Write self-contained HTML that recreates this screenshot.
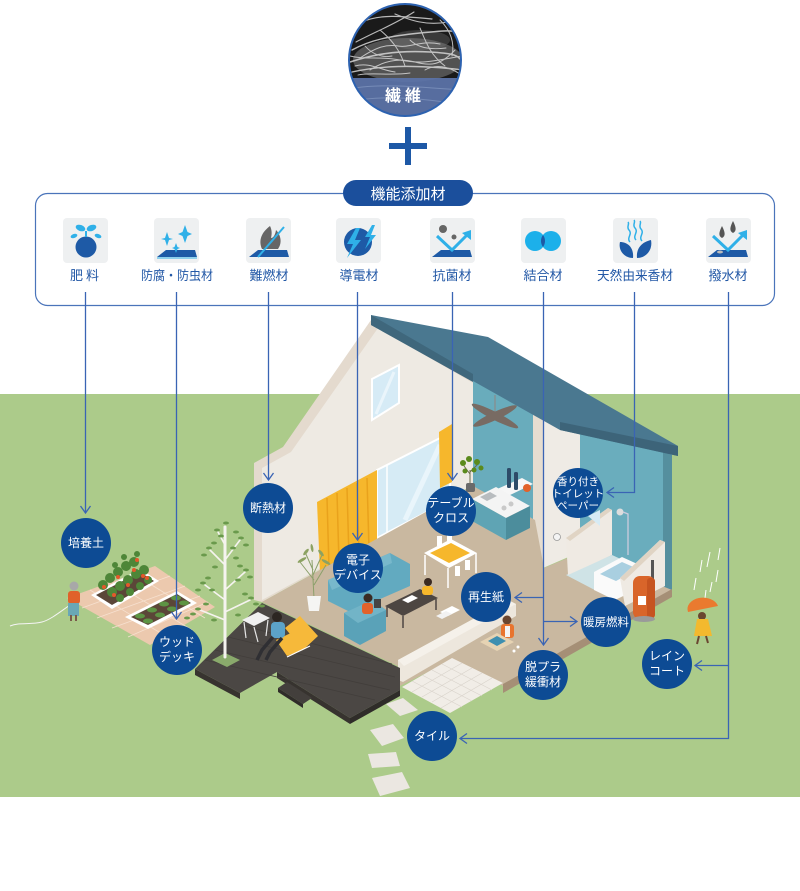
<!DOCTYPE html>
<html><head><meta charset="utf-8"><style>
html,body{margin:0;padding:0;background:#fff;}
svg{display:block;}
text{font-family:"Liberation Sans","Noto Sans CJK JP",sans-serif;}
</style></head><body>
<svg width="800" height="891" viewBox="0 0 800 891" xmlns="http://www.w3.org/2000/svg">
<defs>
<clipPath id="cc"><circle cx="405" cy="60" r="56"/></clipPath>
</defs>
<rect width="800" height="891" fill="#fff"/>

<!-- top fiber circle -->
<g clip-path="url(#cc)">
<rect x="348" y="2" width="116" height="118" fill="#1a1a1a"/>
<ellipse cx="408" cy="60" rx="55" ry="22" fill="#8a8a8a" opacity="0.5"/>
<ellipse cx="420" cy="40" rx="30" ry="10" fill="#777" opacity="0.35"/>
<g fill="none" stroke="#d8d8d8" stroke-linecap="round" opacity="0.85">
<path d="M352,50 C370,40 390,36 420,33 S450,30 464,34" stroke-width="1.4"/>
<path d="M350,62 C372,55 395,50 430,52 S455,58 464,61" stroke-width="1.6"/>
<path d="M362,22 C380,14 400,16 432,19" stroke-width="1.2"/>
<path d="M352,72 C380,66 410,64 464,70" stroke-width="1.4"/>
<path d="M356,42 C375,32 395,24 414,12" stroke-width="1.1"/>
<path d="M395,14 C410,20 425,26 448,22 S460,30 462,40" stroke-width="1.1"/>
<path d="M360,58 C375,48 385,44 398,46 S420,40 440,44" stroke-width="1"/>
<path d="M370,70 C385,60 400,58 415,62 S440,66 455,50" stroke-width="1"/>
<path d="M380,30 C392,40 400,50 405,66" stroke-width="1"/>
<path d="M420,28 C425,40 430,55 445,66" stroke-width="1"/>
<path d="M440,20 C450,30 455,42 452,56" stroke-width="1"/>
<path d="M355,66 C370,62 380,70 395,72" stroke-width="1"/>
<path d="M410,40 C418,48 430,50 446,48" stroke-width="0.9"/>
<path d="M365,46 C372,54 382,58 392,56" stroke-width="0.9"/>
<path d="M425,70 C435,64 448,66 460,74" stroke-width="1"/>
<path d="M350,56 C365,60 380,56 400,60 S430,62 462,56" stroke-width="1"/>
<path d="M358,75 C370,72 390,76 410,73" stroke-width="0.9"/>
</g>
<rect x="348" y="78" width="116" height="42" fill="#5c74aa" opacity="0.92"/>
<g fill="none" stroke="#8aa0c8" stroke-width="1" opacity="0.6">
<path d="M355,88 C380,84 410,86 460,90"/>
<path d="M358,100 C385,96 420,98 458,104"/>
</g>
</g>
<circle cx="405" cy="60" r="56" fill="none" stroke="#2d62b0" stroke-width="2"/>
<text x="405" y="101" font-size="16" fill="#fff" text-anchor="middle" font-weight="bold" letter-spacing="4">繊維</text>

<!-- plus -->
<rect x="389" y="143" width="38" height="6" fill="#1d58a6"/>
<rect x="405" y="127" width="6" height="38" fill="#1d58a6"/>

<!-- green ground -->
<rect x="0" y="394" width="800" height="403" fill="#accb8a"/>

<!-- functional additive box -->
<rect x="35.5" y="193.5" width="739" height="112" rx="12" fill="#fff" stroke="#4a74ba" stroke-width="1.2"/>
<rect x="343" y="180" width="130" height="26" rx="13" fill="#1b4f9c"/>
<text x="408" y="199" font-size="15" fill="#fff" text-anchor="middle">機能添加材</text>

<!-- icon squares -->
<g fill="#eef0f1">
<rect x="63" y="218" width="45" height="45" rx="4"/>
<rect x="154" y="218" width="45" height="45" rx="4"/>
<rect x="246" y="218" width="45" height="45" rx="4"/>
<rect x="336" y="218" width="45" height="45" rx="4"/>
<rect x="430" y="218" width="45" height="45" rx="4"/>
<rect x="521" y="218" width="45" height="45" rx="4"/>
<rect x="613" y="218" width="45" height="45" rx="4"/>
<rect x="706" y="218" width="45" height="45" rx="4"/>
</g>
<!-- icon 1 肥料 -->
<circle cx="86" cy="247" r="10.5" fill="#1e5aa6"/>
<path d="M86,237 L86,231" stroke="#2fb0e8" stroke-width="2"/>
<ellipse cx="80.5" cy="228" rx="5" ry="3" fill="#2fb0e8" transform="rotate(20 80.5 228)"/>
<ellipse cx="91.5" cy="228" rx="5" ry="3" fill="#2fb0e8" transform="rotate(-20 91.5 228)"/>
<ellipse cx="74" cy="236" rx="3.5" ry="2" fill="#2fb0e8" transform="rotate(-20 74 236)"/>
<ellipse cx="98" cy="236" rx="3.5" ry="2" fill="#2fb0e8" transform="rotate(20 98 236)"/>
<!-- icon 2 防腐 -->
<polygon points="157,257 166,250 195,250 197,257" fill="#1e5aa6"/>
<line x1="157" y1="258" x2="197" y2="258" stroke="#2fb0e8" stroke-width="1"/>
<path d="M167,232 L169,238 L173,239 L169,240 L167,246 L165,240 L161,239 L165,238Z" fill="#2fb0e8"/>
<path d="M185,225 L187.5,232 L192,234 L187.5,236 L185,243 L182.5,236 L178,234 L182.5,232Z" fill="#2fb0e8"/>
<path d="M176,243 L177.5,247 L180,248 L177.5,249 L176,253 L174.5,249 L172,248 L174.5,247Z" fill="#2fb0e8"/>
<!-- icon 3 難燃 -->
<polygon points="249,257 258,250 287,250 289,257" fill="#1e5aa6"/>
<path d="M270,226 C262,232 258,240 262,249 L278,249 C283,242 280,234 276,230 C275,236 273,238 271,238 C272,234 272,230 270,226Z" fill="#666"/>
<line x1="258" y1="257" x2="284" y2="227" stroke="#2fb0e8" stroke-width="2"/>
<!-- icon 4 導電 -->
<circle cx="358" cy="242" r="14" fill="#1e5aa6"/>
<path d="M356,228 L347,244 L353,244 L347,258 L361,240 L355,240 L360,228Z" fill="#2fb0e8"/>
<path d="M372,225 L365,237 L370,237 L365,249 L376,235 L371,235 L375,225Z" fill="#2fb0e8"/>
<!-- icon 5 抗菌 -->
<polygon points="432,257 441,250 470,250 472,257" fill="#1e5aa6"/>
<path d="M437,236 L452,250 L468,234" fill="none" stroke="#2fb0e8" stroke-width="3"/>
<polygon points="471,230 471,240 462,233" fill="#2fb0e8"/>
<circle cx="443" cy="229" r="4" fill="#666"/>
<circle cx="454" cy="237" r="2.5" fill="#666"/>
<!-- icon 6 結合 -->
<circle cx="535" cy="241" r="10" fill="#1cb0ea"/>
<circle cx="551" cy="241" r="10" fill="#1cb0ea"/>
<path d="M543,235 A10,10 0 0 1 543,247 A10,10 0 0 1 543,235Z" fill="#1e5aa6"/>
<!-- icon 7 天然 -->
<path d="M633,258 C624,258 618,250 620,242 C628,242 634,248 633,258Z" fill="#1e5aa6"/>
<path d="M637,258 C646,258 653,250 651,240 C642,242 636,248 637,258Z" fill="#1e5aa6"/>
<g fill="none" stroke="#2fb0e8" stroke-width="1.5">
<path d="M630,242 C626,238 633,234 629,230 C626,227 630,224 628,222"/>
<path d="M636,240 C632,236 639,232 635,228 C632,225 636,222 634,220"/>
<path d="M642,241 C638,237 645,233 641,229 C638,226 642,223 640,221"/>
</g>
<!-- icon 8 撥水 -->
<polygon points="708,257 717,250 746,250 748,257" fill="#1e5aa6"/>
<path d="M713,236 L728,250 L744,234" fill="none" stroke="#2fb0e8" stroke-width="3"/>
<polygon points="747,230 747,240 738,233" fill="#2fb0e8"/>
<path d="M722,226 C719,232 718,236 722,238 C726,236 725,232 722,226Z" fill="#555"/>
<path d="M733,221 C730,227 729,231 733,233 C737,231 736,227 733,221Z" fill="#555"/>
<ellipse cx="720" cy="252" rx="3" ry="1.5" fill="#bbb"/>

<!-- icon labels -->
<g font-size="13" fill="#2358a6" text-anchor="middle">
<text x="86" y="280" letter-spacing="3">肥料</text>
<text x="177" y="280" textLength="72" lengthAdjust="spacingAndGlyphs">防腐・防虫材</text>
<text x="269" y="280">難燃材</text>
<text x="359" y="280">導電材</text>
<text x="452" y="280">抗菌材</text>
<text x="543" y="280">結合材</text>
<text x="635" y="280" textLength="76" lengthAdjust="spacingAndGlyphs">天然由来香材</text>
<text x="728" y="280">撥水材</text>
</g>

<!-- ===== garden ===== -->
<polygon points="67,598 155,566 215,607 150,645" fill="#ecc9ae"/>
<g stroke="#f6e0cf" stroke-width="0.8">
<line x1="82" y1="608" x2="170" y2="576"/>
<line x1="97" y1="618" x2="185" y2="586"/>
<line x1="112" y1="628" x2="200" y2="596"/>
<line x1="128" y1="637" x2="208" y2="602"/>
<line x1="90" y1="590" x2="172" y2="640"/>
<line x1="112" y1="582" x2="192" y2="630"/>
<line x1="134" y1="574" x2="205" y2="618"/>
</g>
<polygon points="91,595 140,569 159,581 112,609" fill="#fff"/>
<polygon points="96,595 140,572 154,581 112,605" fill="#5b4638"/>
<polygon points="125,617 177,591 197,603 148,629" fill="#fff"/>
<polygon points="131,617 177,594 191,603 148,625" fill="#5b4638"/>
<g fill="#4e8638">
<circle cx="103" cy="585" r="5"/><circle cx="110" cy="578" r="5"/><circle cx="118" cy="572" r="5"/><circle cx="126" cy="566" r="5"/><circle cx="134" cy="562" r="5"/>
<circle cx="112" cy="592" r="5"/><circle cx="120" cy="586" r="5"/><circle cx="128" cy="580" r="5"/><circle cx="136" cy="574" r="5"/><circle cx="144" cy="570" r="5"/>
<circle cx="120" cy="598" r="4"/><circle cx="130" cy="592" r="4"/><circle cx="140" cy="586" r="4"/><circle cx="148" cy="580" r="4"/>
<circle cx="115" cy="565" r="3"/><circle cx="124" cy="557" r="3"/><circle cx="137" cy="554" r="3"/>
</g>
<g fill="#e4582b">
<circle cx="104" cy="587" r="2"/><circle cx="118" cy="577" r="2"/><circle cx="134" cy="570" r="2"/><circle cx="143" cy="576" r="2"/><circle cx="114" cy="595" r="2"/><circle cx="128" cy="585" r="2"/><circle cx="137" cy="560" r="2"/><circle cx="147" cy="578" r="2"/>
</g>
<g fill="#5d9444">
<ellipse cx="140" cy="616" rx="5" ry="2.5"/><ellipse cx="152" cy="610" rx="5" ry="2.5"/><ellipse cx="164" cy="604" rx="5" ry="2.5"/><ellipse cx="176" cy="598" rx="5" ry="2.5"/>
<ellipse cx="148" cy="621" rx="5" ry="2.5"/><ellipse cx="160" cy="615" rx="5" ry="2.5"/><ellipse cx="172" cy="609" rx="5" ry="2.5"/><ellipse cx="184" cy="603" rx="5" ry="2.5"/>
</g>
<!-- garden lady -->
<path d="M70,605 C60,612 50,620 42,622 C30,625 20,622 10,626" fill="none" stroke="#f4f4f4" stroke-width="1"/>
<circle cx="74" cy="586" r="4.5" fill="#a8a8a8"/>
<rect x="68" y="591" width="12" height="13" rx="3" fill="#e0622a"/>
<rect x="68" y="603" width="11" height="13" fill="#6aa7b5"/>
<rect x="70" y="615" width="2" height="6" fill="#7a5a4a"/><rect x="75" y="615" width="2" height="6" fill="#7a5a4a"/>

<!-- ===== house ===== -->
<polygon points="371,320 473,380 473,485 262,602 254,600 254,463 283,447" fill="#e4dace"/>
<polygon points="378,328 473,383 473,485 262,600 262,468 291,452" fill="#eeeae3"/>
<polygon points="372,379 399,365 399,403 372,420" fill="#d6ebf6" stroke="#fff" stroke-width="2"/>
<line x1="376" y1="414" x2="394" y2="372" stroke="#eaf5fb" stroke-width="3"/>
<polygon points="473,380 535,413 535,527 473,492" fill="#69acbc"/>
<polygon points="575,424 672,452 672,590 663,594 580,562" fill="#6aadbd"/>
<polygon points="663,452 672,455 672,589 663,594" fill="#558f9e"/>
<polygon points="533,412 580,426 580,552 543,568 533,565" fill="#efebe5"/>
<polygon points="533,412 544,416 544,568 533,565" fill="#e6ddd0"/>
<polygon points="371,315 488,337 678,446 678,456 560,430 473,381 371,325" fill="#4a7890"/>
<polygon points="371,315 473,374 473,382 371,325" fill="#3f677c"/>
<polygon points="560,422 678,446 678,456 560,430" fill="#3d6479"/>
<line x1="495" y1="395" x2="495" y2="415" stroke="#8a8a8a" stroke-width="1.2"/>
<ellipse cx="495" cy="416" rx="26" ry="4" fill="#786b63" transform="rotate(27 495 416)"/>
<ellipse cx="495" cy="416" rx="24" ry="4" fill="#786b63" transform="rotate(-25 495 416)"/>
<polygon points="377,470 450,433 450,500 377,538" fill="#d6ebf5" stroke="#fff" stroke-width="2"/>
<line x1="387" y1="465" x2="387" y2="533" stroke="#fff" stroke-width="1.5"/>
<line x1="405" y1="520" x2="440" y2="445" stroke="#e9f5fb" stroke-width="5"/>
<polygon points="317,502 377,470 377,545 320,573" fill="#f6b72c"/>
<g stroke="#e9a21c" stroke-width="1.5">
<line x1="327" y1="498" x2="329" y2="568"/><line x1="337" y1="493" x2="339" y2="563"/><line x1="347" y1="488" x2="349" y2="558"/><line x1="357" y1="483" x2="359" y2="553"/><line x1="367" y1="478" x2="369" y2="549"/>
</g>
<polygon points="439,432 452,424 452,482 440,488" fill="#f6b72c"/>
<polygon points="262,602 473,486 535,520 544,568 580,553 672,590 503,686 452,660 400,686 400,667" fill="#c9b8a0"/>
<polygon points="503,684 672,589 672,597 503,693" fill="#a58f76"/>
<polygon points="398,660 508,600 516,604 516,616 403,682 398,680" fill="#ede7dd"/>
<polygon points="398,660 508,600 516,604 404,666" fill="#f5f1ea"/>
<rect x="466" y="483" width="9" height="9" rx="2" fill="#6a6a6a"/>
<path d="M470,483 L470,470 M470,474 L464,466 M470,472 L478,464" stroke="#6b6b4b" stroke-width="1"/>
<g fill="#5b8a1c"><circle cx="463" cy="463" r="3"/><circle cx="469" cy="459" r="3"/><circle cx="477" cy="462" r="3"/><circle cx="481" cy="468" r="2.5"/><circle cx="465" cy="471" r="2.5"/><circle cx="474" cy="470" r="2.5"/></g>
<polygon points="495,490 522,478 533,484 506,497" fill="#f6f6f6"/>
<rect x="507" y="468" width="4" height="20" rx="1.5" fill="#2d4b68"/>
<rect x="514" y="472" width="4" height="18" rx="1.5" fill="#2d4b68"/>
<circle cx="527" cy="488" r="4" fill="#e2622a"/>
<polygon points="472,499 496,487 530,506 506,518" fill="#f4f4f4"/>
<polygon points="472,499 506,518 506,540 472,521" fill="#5fa4b4"/>
<polygon points="506,518 530,506 530,528 506,540" fill="#4c8d9c"/>
<polygon points="480,497 490,492 497,496 487,501" fill="#b8bcbf"/>
<circle cx="504" cy="508" r="2.5" fill="#c9c9c9"/><circle cx="511" cy="504" r="2.5" fill="#c9c9c9"/>
<g stroke="#fff" stroke-width="1.5">
<line x1="425" y1="555" x2="425" y2="575"/><line x1="448" y1="568" x2="448" y2="588"/><line x1="476" y1="553" x2="476" y2="573"/><line x1="452" y1="541" x2="452" y2="560"/>
</g>
<polygon points="424,553 451,539 477,553 449,568" fill="#fff"/>
<polygon points="430,553 451,543 470,553 449,563" fill="#f6b72c"/>
<g fill="#fff"><rect x="437" y="536" width="5" height="10"/><rect x="447" y="531" width="5" height="10"/><rect x="455" y="566" width="5" height="10"/><rect x="465" y="560" width="5" height="10"/></g>
<g stroke="#8ba06a" stroke-width="1" fill="none">
<path d="M314,598 L312,560 M314,580 L300,562 M314,585 L326,565 M313,570 L305,552 M313,575 L322,555"/>
</g>
<g fill="#8ca262"><ellipse cx="302" cy="560" rx="5" ry="1.5" transform="rotate(-30 302 560)"/><ellipse cx="326" cy="562" rx="5" ry="1.5" transform="rotate(30 326 562)"/><ellipse cx="306" cy="552" rx="4" ry="1.5" transform="rotate(-50 306 552)"/><ellipse cx="321" cy="553" rx="4" ry="1.5" transform="rotate(50 321 553)"/><ellipse cx="312" cy="548" rx="4" ry="1.3" transform="rotate(80 312 548)"/></g>
<path d="M307,596 L321,596 L319,611 L309,611Z" fill="#f5f5f3"/>
<polygon points="328,580 390,553 410,564 410,586 350,612 328,601" fill="#62aac0"/>
<polygon points="328,580 390,553 392,563 332,590" fill="#78b8cb"/>
<polygon points="344,613 372,600 386,610 386,631 360,645 344,636" fill="#5aa2b8"/>
<polygon points="344,613 372,600 386,610 358,623" fill="#72b4c7"/>
<circle cx="368" cy="598" r="4.5" fill="#3a2a22"/>
<rect x="362" y="603" width="11" height="11" rx="3" fill="#e2622a"/>
<rect x="374" y="599" width="7" height="9" fill="#444"/>
<polygon points="385,606 420,589 438,598 403,616" fill="#4d4642"/>
<line x1="387" y1="607" x2="387" y2="617" stroke="#4d4642" stroke-width="1.5"/>
<line x1="403" y1="616" x2="403" y2="628" stroke="#4d4642" stroke-width="1.5"/>
<line x1="436" y1="599" x2="436" y2="610" stroke="#4d4642" stroke-width="1.5"/>
<polygon points="402,600 412,595 418,598 408,603" fill="#fff"/>
<circle cx="428" cy="582" r="4" fill="#3a2a22"/>
<rect x="422" y="586" width="11" height="9" rx="3" fill="#f6b72c"/>
<polygon points="440,612 452,606 460,610 448,616" fill="#fff"/>
<polygon points="436,616 446,611 452,614 442,619" fill="#f2f2f2"/>

<!-- bathroom -->
<polygon points="566,575 612,555 655,575 610,598" fill="#cfe3e6"/>
<circle cx="620" cy="512" r="3.5" fill="#ddd"/>
<path d="M623,512 L628,514 L628,555" stroke="#ccd" stroke-width="1.3" fill="none"/>
<ellipse cx="577" cy="545" rx="8" ry="6" fill="#f6f6f6"/>
<circle cx="557" cy="537" r="3.5" fill="#f4f4f4" stroke="#999" stroke-width="0.8"/>
<polygon points="566,538 608,508 612,510 612,555 568,575" fill="#efeae3"/>
<polygon points="566,538 608,508 612,510 570,541" fill="#e0d4c4"/>
<polygon points="594,572 622,557 644,567 644,586 615,600 594,590" fill="#fafafa"/>
<polygon points="600,574 622,562 638,569 616,581" fill="#a9cfe0"/>
<polygon points="620,578 660,540 665,542 665,586 625,606" fill="#efeae3"/>
<polygon points="620,578 660,540 665,542 624,581" fill="#e0d4c4"/>
<rect x="651" y="560" width="3" height="22" fill="#555"/>
<rect x="633" y="576" width="22" height="43" rx="7" fill="#d9652a"/>
<rect x="647" y="578" width="8" height="40" rx="3" fill="#c65420"/>
<rect x="638" y="596" width="8" height="9" fill="#fff"/>
<ellipse cx="644" cy="619" rx="11" ry="3" fill="#9a9a9a"/>
<polygon points="588,516 600,510 600,526" fill="#d6ebf5"/>

<!-- woman with box -->
<circle cx="507" cy="620" r="4.5" fill="#6a4630"/>
<rect x="501" y="624" width="13" height="14" rx="3" fill="#e8742e"/>
<rect x="505" y="626" width="5" height="11" fill="#f4f4f4"/>
<polygon points="480,642 497,633 514,642 497,651" fill="#e6d3b3"/>
<polygon points="488,641 497,636 506,641 497,646" fill="#3e8fb0"/>
<circle cx="518" cy="647" r="1.5" fill="#fff"/><circle cx="514" cy="651" r="1.5" fill="#fff"/>

<!-- ===== deck ===== -->
<polygon points="195,669 195,675 240,699 240,693" fill="#37332f"/>
<polygon points="277,672 277,678 350,724 350,718" fill="#37332f"/>
<polygon points="350,718 350,724 400,696 400,690" fill="#2f2c29"/>
<!-- steps -->
<polygon points="287,682 312,698 303,704 278,688" fill="#433f3c"/>
<polygon points="278,688 303,704 303,708 278,692" fill="#2f2c29"/>
<polygon points="195,669 262,603 400,668 400,690 350,718 277,672 240,693" fill="#4b4744"/>
<g stroke="#423e3b" stroke-width="0.8">
<line x1="205" y1="660" x2="375" y2="700"/><line x1="215" y1="650" x2="390" y2="690"/><line x1="228" y1="637" x2="395" y2="677"/><line x1="240" y1="625" x2="392" y2="664"/>
</g>
<polygon points="212,660 225,653 240,660 227,667" fill="#8aaa6c"/>
<polygon points="242,620 258,612 270,618 254,626" fill="#f0f0f0"/>
<g stroke="#e6e6e6" stroke-width="1.2"><line x1="244" y1="622" x2="246" y2="638"/><line x1="254" y1="627" x2="258" y2="642"/><line x1="268" y1="620" x2="266" y2="636"/></g>
<polygon points="285,628 300,616 318,636 303,650" fill="#f6b93a"/>
<polygon points="276,640 293,632 303,650 287,656" fill="#f6b93a"/>
<line x1="287" y1="657" x2="310" y2="646" stroke="#fff" stroke-width="1.2"/>
<circle cx="277" cy="617" r="5" fill="#2c2622"/>
<rect x="271" y="622" width="14" height="16" rx="4" fill="#5ca3c9"/>
<path d="M273,637 L262,650 L257,660 M282,638 L270,652 L266,660" stroke="#2f2f33" stroke-width="3.5" fill="none"/>

<!-- tree -->
<g stroke="#f5f3ef" stroke-linecap="round" fill="none">
<path d="M225,657 L225,527" stroke-width="3"/>
<path d="M225,600 L205,585 M225,590 L245,572 M225,565 L210,550 M225,560 L240,540 M225,620 L200,610 M225,612 L250,600 M225,545 L218,532" stroke-width="1.6"/>
</g>
<g fill="#6a9a4c">
<ellipse cx="203" cy="583" rx="3" ry="1.5"/><ellipse cx="198" cy="590" rx="3" ry="1.5"/><ellipse cx="208" cy="578" rx="3" ry="1.5"/><ellipse cx="212" cy="590" rx="3" ry="1.5"/>
<ellipse cx="246" cy="570" rx="3" ry="1.5"/><ellipse cx="250" cy="577" rx="3" ry="1.5"/><ellipse cx="240" cy="566" rx="3" ry="1.5"/><ellipse cx="238" cy="580" rx="3" ry="1.5"/>
<ellipse cx="209" cy="548" rx="3" ry="1.5"/><ellipse cx="204" cy="555" rx="3" ry="1.5"/><ellipse cx="214" cy="543" rx="3" ry="1.5"/>
<ellipse cx="241" cy="538" rx="3" ry="1.5"/><ellipse cx="246" cy="545" rx="3" ry="1.5"/><ellipse cx="236" cy="532" rx="3" ry="1.5"/><ellipse cx="233" cy="548" rx="3" ry="1.5"/>
<ellipse cx="198" cy="609" rx="3" ry="1.5"/><ellipse cx="193" cy="614" rx="3" ry="1.5"/><ellipse cx="206" cy="604" rx="3" ry="1.5"/>
<ellipse cx="251" cy="598" rx="3" ry="1.5"/><ellipse cx="256" cy="604" rx="3" ry="1.5"/><ellipse cx="245" cy="594" rx="3" ry="1.5"/>
<ellipse cx="217" cy="530" rx="3" ry="1.5"/><ellipse cx="226" cy="523" rx="3" ry="1.5"/><ellipse cx="221" cy="536" rx="3" ry="1.5"/>
<ellipse cx="215" cy="567" rx="3" ry="1.5"/><ellipse cx="236" cy="558" rx="3" ry="1.5"/><ellipse cx="214" cy="620" rx="3" ry="1.5"/><ellipse cx="238" cy="615" rx="3" ry="1.5"/>
<ellipse cx="187" cy="618" rx="3" ry="1.5"/><ellipse cx="262" cy="606" rx="3" ry="1.5"/>
</g>

<!-- tile patio -->
<polygon points="402,687 452,658 503,683 450,713" fill="#f1ede7"/>
<g stroke="#d9d3cb" stroke-width="0.7">
<line x1="412" y1="692" x2="462" y2="663"/><line x1="422" y1="697" x2="472" y2="668"/><line x1="432" y1="702" x2="482" y2="673"/><line x1="441" y1="708" x2="492" y2="678"/>
<line x1="412" y1="681" x2="462" y2="707"/><line x1="422" y1="675" x2="472" y2="701"/><line x1="432" y1="670" x2="482" y2="696"/><line x1="442" y1="664" x2="492" y2="690"/>
</g>
<g fill="#ebe7e1">
<polygon points="386,704 403,698 418,710 400,716"/>
<polygon points="370,730 393,724 404,738 382,746"/>
<polygon points="368,754 396,752 400,766 372,768"/>
<polygon points="372,778 402,772 410,788 380,796"/>
</g>

<!-- umbrella girl & rain -->
<g stroke="#fff" stroke-width="1">
<line x1="702" y1="560" x2="700" y2="572"/><line x1="710" y1="552" x2="707" y2="567"/><line x1="718" y1="570" x2="716" y2="582"/><line x1="696" y1="578" x2="694" y2="590"/><line x1="712" y1="582" x2="710" y2="592"/><line x1="720" y1="548" x2="718" y2="560"/><line x1="706" y1="590" x2="705" y2="598"/>
</g>
<path d="M688,612 A15,11 0 0 1 718,606 Z" fill="#ea7a2f"/>
<circle cx="702" cy="616" r="4" fill="#6a4630"/>
<polygon points="697,619 708,619 712,636 694,636" fill="#f3b92e"/>
<line x1="699" y1="636" x2="697" y2="644" stroke="#6a4630" stroke-width="2"/>
<line x1="706" y1="636" x2="708" y2="643" stroke="#6a4630" stroke-width="2"/>

<!-- ===== connectors ===== -->
<g stroke="#3a64b4" stroke-width="1.3" fill="none">
<line x1="85.5" y1="292" x2="85.5" y2="513"/>
<polyline points="80.5,506 85.5,513 90.5,506"/>
<line x1="176.5" y1="292" x2="176.5" y2="619"/>
<polyline points="171.5,612 176.5,619 181.5,612"/>
<line x1="268.5" y1="292" x2="268.5" y2="480"/>
<polyline points="263.5,473 268.5,480 273.5,473"/>
<line x1="357.5" y1="292" x2="357.5" y2="540"/>
<polyline points="352.5,533 357.5,540 362.5,533"/>
<line x1="452.5" y1="292" x2="452.5" y2="480"/>
<polyline points="447.5,473 452.5,480 457.5,473"/>
<line x1="543.5" y1="292" x2="543.5" y2="645"/>
<polyline points="538.5,638 543.5,645 548.5,638"/>
<line x1="543.5" y1="597.5" x2="515" y2="597.5"/>
<polyline points="522,592.5 515,597.5 522,602.5"/>
<line x1="543.5" y1="621.5" x2="577" y2="621.5"/>
<polyline points="570,616.5 577,621.5 570,626.5"/>
<polyline points="634.5,292 634.5,492.5 607,492.5"/>
<polyline points="614,487.5 607,492.5 614,497.5"/>
<polyline points="728.5,292 728.5,738.5 460,738.5"/>
<polyline points="467,733.5 460,738.5 467,743.5"/>
<line x1="728.5" y1="665.5" x2="695" y2="665.5"/>
<polyline points="702,660.5 695,665.5 702,670.5"/>
</g>

<!-- ===== label circles ===== -->
<g fill="#0d4b94">
<circle cx="86" cy="543" r="25"/>
<circle cx="177" cy="650" r="25"/>
<circle cx="268" cy="508" r="25"/>
<circle cx="358" cy="568" r="25"/>
<circle cx="451" cy="511" r="25"/>
<circle cx="578" cy="493" r="25"/>
<circle cx="486" cy="597" r="25"/>
<circle cx="606" cy="622" r="25"/>
<circle cx="543" cy="675" r="25"/>
<circle cx="667" cy="664" r="25"/>
<circle cx="432" cy="736" r="25"/>
</g>
<g fill="#fff" font-size="12" text-anchor="middle">
<text x="86" y="547">培養土</text>
<text x="177" y="646">ウッド</text><text x="177" y="661">デッキ</text>
<text x="268" y="512">断熱材</text>
<text x="358" y="564">電子</text><text x="358" y="579">デバイス</text>
<text x="451" y="507">テーブル</text><text x="451" y="522">クロス</text>
<text x="578" y="485" font-size="10.5">香り付き</text><text x="578" y="497" font-size="10.5">トイレット</text><text x="578" y="509" font-size="10.5">ペーパー</text>
<text x="486" y="601">再生紙</text>
<text x="606" y="626" font-size="11.5">暖房燃料</text>
<text x="543" y="671">脱プラ</text><text x="543" y="686">緩衝材</text>
<text x="667" y="660">レイン</text><text x="667" y="675">コート</text>
<text x="432" y="740">タイル</text>
</g>
</svg>
</body></html>
